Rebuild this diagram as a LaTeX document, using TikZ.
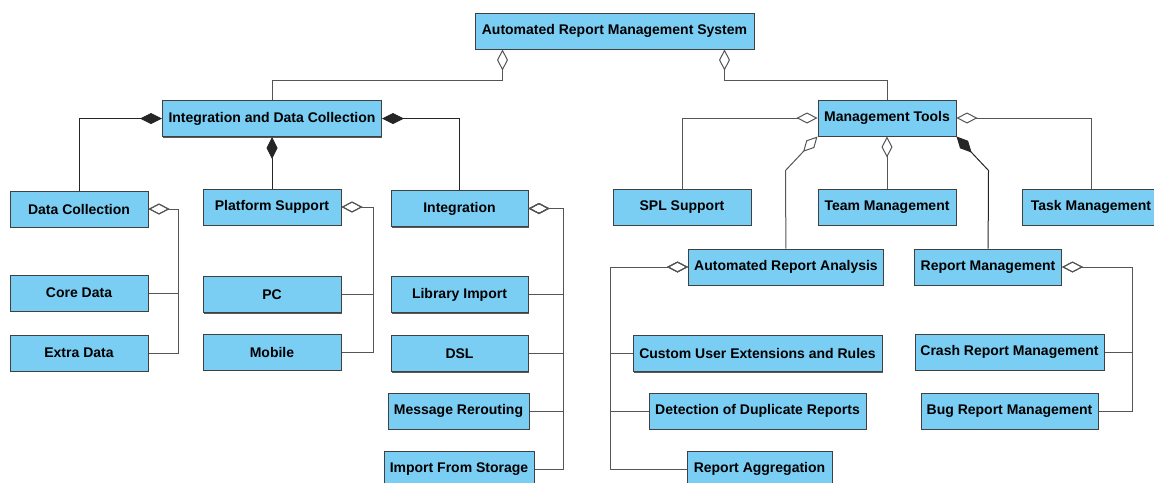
\documentclass[tikz,border=0pt]{standalone}
\usepackage{fontspec}
\setmainfont{Liberation Sans}
\usetikzlibrary{arrows.meta,shadows}
\definecolor{boxblue}{RGB}{122,206,244}
\definecolor{linegray}{RGB}{85,85,85}
\tikzset{
	box/.style={draw=black!75, fill=boxblue, line width=1pt, minimum height=36pt, inner sep=2pt,
		font=\fontsize{14}{16}\selectfont\bfseries,
		general shadow={shadow xshift=0.6pt, shadow yshift=-1.2pt, fill=black!65}},
	agg/.style={draw=linegray, line width=1pt, {Diamond[open, length=21pt, width=11pt]}-},
	comp/.style={draw=black!85, line width=1pt, {Diamond[length=22pt, width=11pt]}-},
	bus/.style={draw=linegray, line width=1pt},
}
\begin{document}
\begin{tikzpicture}[x=1pt, y=-1pt]
	\useasboundingbox (0,0) rectangle (1154,482);
	\clip (0,0) rectangle (1154,482);
	% root and first level
	\node[box, minimum width=279pt] (system) at (614.5,31) {Automated Report Management System};
	\node[box, minimum width=219pt] (idc) at (272,118.5) {Integration and Data Collection};
	\node[box, minimum width=138pt] (tools) at (887,118) {Management Tools};
	% integration and data collection
	\node[box, minimum width=138pt] (datacoll) at (79,209) {Data Collection};
	\node[box, minimum width=138pt] (platform) at (272,207) {Platform Support};
	\node[box, minimum width=137pt] (integ) at (459.5,208.5) {Integration};
	\node[box, minimum width=138pt] (core) at (79,293) {Core Data};
	\node[box, minimum width=138pt] (extra) at (79,353) {Extra Data};
	\node[box, minimum width=138pt] (pc) at (272,294.5) {PC};
	\node[box, minimum width=138pt] (mobile) at (272,352) {Mobile};
	\node[box, minimum width=137pt] (library) at (459.5,294.5) {Library Import};
	\node[box, minimum width=137pt] (dsl) at (459.5,353.5) {DSL};
	\node[box, minimum width=141pt] (reroute) at (458.5,411) {Message Rerouting};
	\node[box, minimum width=150pt] (storage) at (459,469) {Import From Storage};
	% management tools
	\node[box, minimum width=138pt] (spl) at (682,207) {SPL Support};
	\node[box, minimum width=138pt] (team) at (887,207) {Team Management};
	\node[box, minimum width=138pt] (task) at (1091,207) {Task Management};
	\node[box, minimum width=195pt] (analysis) at (786,267) {Automated Report Analysis};
	\node[box, minimum width=147pt] (reportmgmt) at (988,267) {Report Management};
	\node[box, minimum width=249pt] (custom) at (757.5,353.5) {Custom User Extensions and Rules};
	\node[box, minimum width=217pt] (duplicate) at (757.5,411) {Detection of Duplicate Reports};
	\node[box, minimum width=145pt] (aggregation) at (759.5,469) {Report Aggregation};
	\node[box, minimum width=189pt] (crash) at (1009.5,352) {Crash Report Management};
	\node[box, minimum width=177pt] (bug) at (1009.5,411) {Bug Report Management};

	% connectors
	\draw[agg] ([xshift=-112pt]system.south) -- ++(0,31) -| (idc);
	\draw[agg] ([xshift=110pt]system.south) -- ++(0,31) -| (tools);
	\draw[comp] (idc.west) -| (datacoll);
	\draw[comp] (idc.south) -- (platform);
	\draw[comp] (idc.east) -| (integ);
	\draw[agg] (tools.west) -| (spl);
	\draw[agg] (tools.south) -- (team);
	\draw[agg] (tools.east) -| (task);
	\draw[agg] (tools.south west) -- ++(-32,34) -- (analysis);
	\draw[comp] (tools.south east) -- ++(32,34) -- (reportmgmt);
	\foreach \c in {core,extra}
		\draw[agg] (datacoll.east) -- ++(30,0) |- (\c.east);
	\foreach \c in {pc,mobile}
		\draw[agg] (platform.east) -- ++(32,0) |- (\c.east);
	\foreach \c in {library,dsl,reroute,storage}
		\draw[agg] (integ.east) -- ++(35,0) |- (\c.east);
	\foreach \c in {custom,duplicate,aggregation}
		\draw[agg] (analysis.west) -- ++(-78,0) |- (\c.west);
	\foreach \c in {crash,bug}
		\draw[agg] (reportmgmt.east) -- ++(70,0) |- (\c.east);
\end{tikzpicture}
\end{document}
